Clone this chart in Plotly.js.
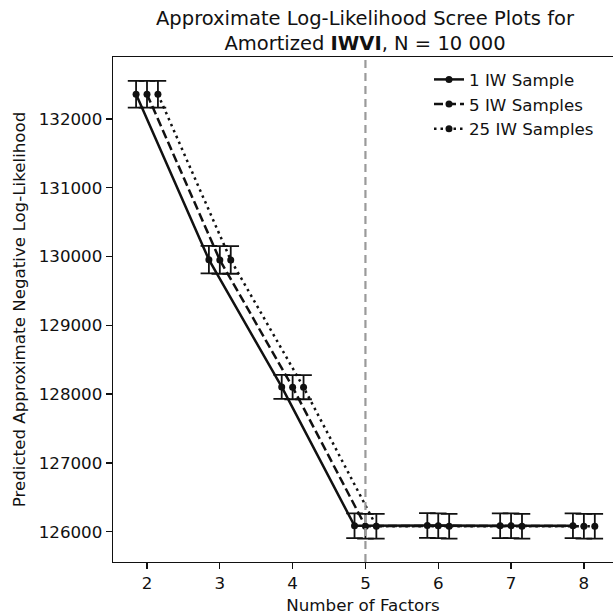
<!DOCTYPE html>
<html>
<head>
<meta charset="utf-8">
<script src="https://cdn.plot.ly/plotly-3.0.1.min.js"></script>
<style>html,body{margin:0;padding:0;background:#fff;}#chart{width:613px;height:615px;}</style>
</head>
<body>
<div id="chart"></div>
<script>
// ---- data ----
const factors = [2, 3, 4, 5, 6, 7, 8];
const seriesNames = ['1 IW Sample', '5 IW Samples', '25 IW Samples'];
const nll1  = [132360, 129955, 128105, 126085, 126090, 126085, 126085];
const nll5  = [132360, 129950, 128100, 126080, 126085, 126085, 126080];
const nll25 = [132360, 129950, 128100, 126080, 126080, 126080, 126080];
const err1  = [195, 200, 175, 180, 180, 180, 180];
const err5  = [195, 200, 175, 180, 180, 180, 180];
const err25 = [195, 200, 175, 180, 180, 180, 180];
const chosenFactors = 5;
const yTicks = [126000, 127000, 128000, 129000, 130000, 131000, 132000];

// ---- styles ----
const offsets = [-0.15, 0, 0.15];
const dashes = ['solid', '9px,4px', '2.5px,4px'];
const values = [nll1, nll5, nll25];
const errs = [err1, err5, err25];
const FONT = 'DejaVu Sans, sans-serif';
const INK = '#111111';

const traces = seriesNames.map((name, i) => ({
  type: 'scatter',
  mode: 'lines+markers',
  name: name,
  legendgroup: 'g' + i,
  x: factors.map(f => f + offsets[i]),
  y: values[i],
  line: {color: INK, width: 2.5, dash: dashes[i]},
  marker: {color: INK, size: 7},
  error_y: {type: 'data', array: errs[i], visible: true, color: INK, thickness: 1.8, width: 8.3}
}));

const layout = {
  width: 613, height: 615,
  margin: {l: 113, r: 0, t: 57, b: 53},
  paper_bgcolor: '#fff', plot_bgcolor: '#fff',
  font: {family: FONT, color: INK, size: 16.7},
  title: {
    text: 'Approximate Log-Likelihood Scree Plots for<br>Amortized <b>IWVI</b>, N = 10 000',
    font: {family: FONT, size: 19.5, color: INK},
    x: 0.504, xanchor: 'center', xref: 'paper',
    yref: 'paper', y: 1, yanchor: 'bottom',
    pad: {b: 32}
  },
  xaxis: {
    range: [1.533, 8.4],
    tickvals: factors,
    ticks: 'outside', ticklen: 6, tickwidth: 1.3, tickcolor: INK,
    showline: true, linecolor: INK, linewidth: 1.3, mirror: true,
    showgrid: false, zeroline: false,
    tickfont: {family: FONT, size: 16.7, color: INK},
    title: {text: 'Number of Factors', font: {family: FONT, size: 16.7, color: INK}, standoff: 8}
  },
  yaxis: {
    range: [125559, 132901],
    tickvals: yTicks,
    tickformat: 'd',
    ticks: 'outside', ticklen: 6, tickwidth: 1.3, tickcolor: INK,
    showline: true, linecolor: INK, linewidth: 1.3, mirror: false,
    showgrid: false, zeroline: false,
    tickfont: {family: FONT, size: 16.7, color: INK},
    title: {text: 'Predicted Approximate Negative Log-Likelihood', font: {family: FONT, size: 16.7, color: INK}, standoff: 8}
  },
  legend: {
    x: 0.632, y: 0.99, xanchor: 'left', yanchor: 'top',
    bgcolor: 'rgba(0,0,0,0)', borderwidth: 0,
    font: {family: FONT, size: 16.7, color: INK},
    traceorder: 'grouped', tracegroupgap: 0
  },
  shapes: [{
    type: 'line', xref: 'x', yref: 'paper',
    x0: chosenFactors, x1: chosenFactors, y0: 0, y1: 1,
    line: {color: '#9a9a9a', width: 2.2, dash: '8px,5px'}
  }],
  showlegend: true
};

Plotly.newPlot('chart', traces, layout, {displayModeBar: false, staticPlot: true});
</script>
</body>
</html>
